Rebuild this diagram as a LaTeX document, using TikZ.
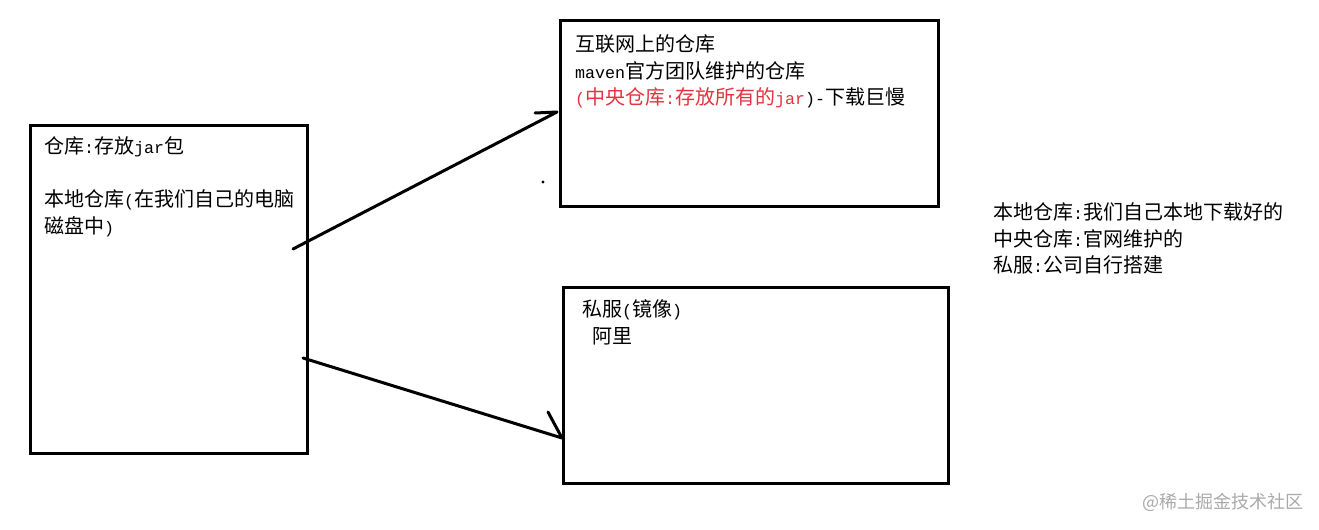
\documentclass[tikz,border=0pt]{standalone}
\usepackage{fontspec}
\setmainfont{Noto Sans CJK SC}
\newfontfamily\halfwfont{Liberation Mono}
\newcommand{\hw}[1]{{\halfwfont\fontsize{12.5}{19.8}\selectfont #1}}
\usepackage{xcolor}
\usepackage{tikz}
\usetikzlibrary{positioning, calc}
\definecolor{inkred}{RGB}{226, 52, 64}
\definecolor{markgray}{RGB}{170, 170, 170}

\begin{document}
\begin{tikzpicture}[
    x=0.75pt, y=-0.75pt,
    repo/.style={rectangle, draw=black, line width=2.25pt, fill=none,
                 anchor=north west, inner sep=0pt, outer sep=0pt},
    txt/.style={anchor=north west, inner sep=0pt, outer sep=0pt, align=left,
                font=\fontsize{15}{19.8}\selectfont},
    stroke/.style={line width=2.25pt, line cap=round, line join=round}
]
\useasboundingbox[fill=white] (0,0) rectangle (1319,529);

%% ── LOCAL REPOSITORY ────────────────────────────────────────────────────────
\node[repo, minimum width=207.75pt, minimum height=246pt] (local) at (30,125) {};
\node[txt] (localtxt) at (44,137)
     {仓库\hw{:}存放\hw{jar}包\\[19.8pt]本地仓库\hw{(}在我们自己的电脑\\磁盘中\hw{)}};

%% ── CENTRAL REPOSITORY ──────────────────────────────────────────────────────
\node[repo, minimum width=283.5pt, minimum height=139.5pt] (central) at (560,20) {};
\node[txt] (centraltxt) at (575,35)
     {互联网上的仓库\\\hw{maven}官方团队维护的仓库\\%
      \textcolor{inkred}{\hw{(}中央仓库\hw{:}存放所有的\hw{jar}}\hw{)-}下载巨慢};

%% ── MIRROR (PRIVATE SERVER) ─────────────────────────────────────────────────
\node[repo, minimum width=288.75pt, minimum height=147pt] (mirror) at (563,287) {};
\node[txt] (mirrortxt) at (582,300)
     {私服\hw{(}镜像\hw{)}\\\hspace*{7.5pt}阿里};

%% ── NOTES ───────────────────────────────────────────────────────────────────
\node[txt] (notes) at (993,203)
     {本地仓库\hw{:}我们自己本地下载好的\\中央仓库\hw{:}官网维护的\\私服\hw{:}公司自行搭建};
\node[txt, font=\fontsize{13.5}{16}\selectfont, text=markgray] (mark) at (1142,493)
     {@稀土掘金技术社区};

%% ── Arrows ──────────────────────────────────────────────────────────────────
\coordinate (upstart)  at (293,249);
\coordinate (uptip)    at ($(central.north west)+(-3,92)$);
\coordinate (upbarb)   at (535,113);
\coordinate (downstart) at (303,358);
\coordinate (downtip)  at ($(mirror.north west)+(-1,151)$);
\coordinate (downbarb) at (548,412);

% local -> central
\draw[stroke] (upstart) -- (uptip) -- (upbarb);
% local -> mirror
\draw[stroke] (downstart) -- (downtip) -- (downbarb);

% stray dot
\fill (543,182) circle (1.6);

\end{tikzpicture}
\end{document}
